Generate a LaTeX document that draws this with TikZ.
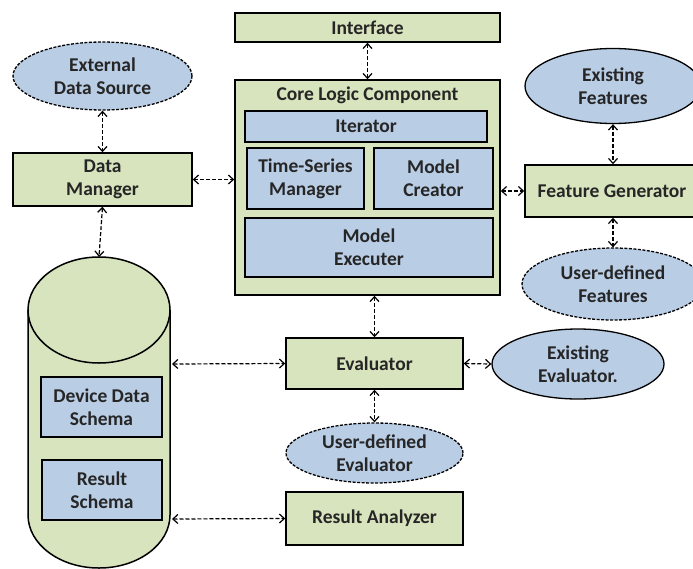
\documentclass[tikz,border=0pt]{standalone}
\usepackage{fontspec}
\setmainfont{Carlito}
\usetikzlibrary{arrows.meta,shapes.geometric}
\definecolor{gfill}{HTML}{D7E4BD}
\definecolor{bfill}{HTML}{B9CDE5}
\tikzset{
  base/.style={font=\bfseries\fontsize{19.5}{23}\selectfont, align=center, inner sep=0pt, text=black!85},
  gbox/.style={base, rectangle, draw=black, line width=1.5pt, fill=gfill},
  bbox/.style={base, rectangle, draw=black, line width=1.5pt, fill=bfill},
  ell/.style={base, ellipse, draw=black, line width=1.3pt, fill=bfill},
  dell/.style={ell, dashed, dash pattern=on 3pt off 1.5pt},
  conn/.style={dashed, dash pattern=on 4pt off 2pt, line width=1.2pt, {Straight Barb[length=5pt,width=9pt]}-{Straight Barb[length=5pt,width=9pt]}},
}
\begin{document}
\begin{tikzpicture}[x=1pt,y=-1pt]
\useasboundingbox (0,0) rectangle (693,568);
% Core logic
\node[gbox, minimum width=265, minimum height=29] (interface) at (367.5,27.5) {Interface};
\node[gbox, minimum width=265, minimum height=215] (core) at (367.5,187.5) {};
\node[base] (coretitle) at (367.5,95) {Core Logic Component};
\node[bbox, minimum width=242, minimum height=31] (iter) at (366,126.5) {Iterator};
\node[bbox, minimum width=117, minimum height=61] (tsm) at (305.5,178.5) {Time-Series\\Manager};
\node[bbox, minimum width=119, minimum height=61] (mc) at (433.5,178.5) {Model\\Creator};
\node[bbox, minimum width=248, minimum height=59] (me) at (369,247.5) {Model\\Executer};
% left
\node[dell, minimum width=179, minimum height=68] (ext) at (102.5,76) {External\\Data Source};
\node[gbox, minimum width=179, minimum height=53] (dm) at (102.5,179.5) {Data\\Manager};
% cylinder
\fill[gfill] (28,310) -- (28,515) arc[start angle=180, end angle=0, x radius=71, y radius=53] -- (170,310) -- cycle;
\draw[line width=1.5pt] (28,310) -- (28,515) arc[start angle=180, end angle=0, x radius=71, y radius=53] -- (170,310);
\draw[line width=1.5pt, fill=gfill] (99,310) ellipse[x radius=71, y radius=53];
\coordinate (cyltop) at (99,257);
\coordinate (cylA) at (172,364);
\coordinate (cylB) at (172,519);
\node[bbox, minimum width=121, minimum height=60] (dds) at (101.5,407) {Device Data\\Schema};
\node[bbox, minimum width=120, minimum height=60] (rs) at (102,490) {Result\\Schema};
% middle bottom
\node[gbox, minimum width=177, minimum height=51] (eval) at (374.5,363.5) {Evaluator};
\node[ell, minimum width=172, minimum height=70] (exev) at (578,364) {Existing\\Evaluator.};
\node[dell, minimum width=177, minimum height=60] (udev) at (374.5,453) {User-defined\\Evaluator};
\node[gbox, minimum width=177, minimum height=53] (ra) at (374.5,518.5) {Result Analyzer};
% right
\node[ell, minimum width=176, minimum height=75] (exf) at (613,86) {Existing\\Features};
\node[gbox, minimum width=174, minimum height=52] (fg) at (612,191) {Feature Generator};
\node[dell, minimum width=182, minimum height=72] (udf) at (613,284) {User-defined\\Features};
% connectors
\draw[conn] (interface.south) -- (core.north);
\draw[conn] (ext.south) -- (dm.north);
\draw[conn] (dm.east) -- (core.west |- dm.east);
\draw[conn] (dm.south) -- (cyltop);
\draw[conn] (core.east |- fg.west) -- (fg.west);
\draw[conn] (exf.south) -- (fg.north -| exf.south);
\draw[conn] (fg.south -| udf.north) -- (udf.north);
\draw[conn] (core.south -| eval.north) -- (eval.north);
\draw[conn] (cylA) -- (eval.west);
\draw[conn] (eval.east) -- (exev.west);
\draw[conn] (eval.south) -- (udev.north);
\draw[conn] (cylB) -- (ra.west);
\end{tikzpicture}
\end{document}
